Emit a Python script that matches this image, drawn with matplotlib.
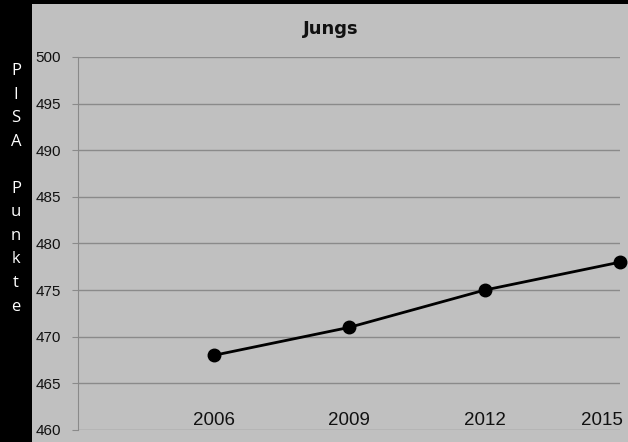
import matplotlib.pyplot as plt
from matplotlib.patches import Rectangle

# === Data ===
years = ['2006', '2009', '2012', '2015']
scores = [468, 471, 475, 478]
y_ticks = [460, 465, 470, 475, 480, 485, 490, 495, 500]
ylabel_text = 'PISA Punkte'

panel_gray = '#c0c0c0'
grid_gray = '#8a8a8a'

fig = plt.figure(figsize=(6.28, 4.42), dpi=100, facecolor='black')

# gray chart panel
fig.patches.append(Rectangle((32 / 628, 0), 1 - 32 / 628, 438 / 442,
                             transform=fig.transFigure, facecolor=panel_gray,
                             edgecolor='none', zorder=-1))

ax = fig.add_axes([78 / 628, 12 / 442, 542 / 628, 373 / 442])
ax.set_zorder(1)
ax.set_facecolor(panel_gray)

x = list(range(1, len(years) + 1))
ax.plot(x, scores, color='black', lw=2, marker='o', ms=9,
        clip_on=False, zorder=5)

ax.set_xlim(0, len(years))
ax.set_ylim(y_ticks[0], y_ticks[-1])
ax.set_yticks(y_ticks)
ax.yaxis.grid(True, color=grid_gray, lw=1)
ax.set_axisbelow(True)
ax.tick_params(axis='y', length=4, color=grid_gray, labelsize=11,
               labelcolor='#111111', pad=8)
ax.set_yticklabels([str(v) for v in y_ticks], family='Liberation Sans')
ax.set_xticks([])
for s in ['top', 'right', 'bottom']:
    ax.spines[s].set_visible(False)
ax.spines['left'].set_color(grid_gray)

# category labels sit inside the plot near the bottom
for i, lab in zip(x, years):
    last = i == len(years)
    ax.text(i + (0.02 if last else 0), y_ticks[0] + 0.12, lab,
            ha='right' if last else 'center', va='bottom',
            fontsize=13.5, family='Liberation Sans', color='#111111')

fig.text(331 / 628, 1 - 29 / 442, 'Jungs', ha='center', va='center',
         fontsize=13, fontweight='bold', color='#111111')

fig.text(16 / 628, 1 - 63 / 442, '\n'.join(ylabel_text), ha='center',
         va='top', fontsize=12, color='white', linespacing=1.63,
         family='Open Sans')

fig.savefig('out.png', dpi=100, facecolor='black')
